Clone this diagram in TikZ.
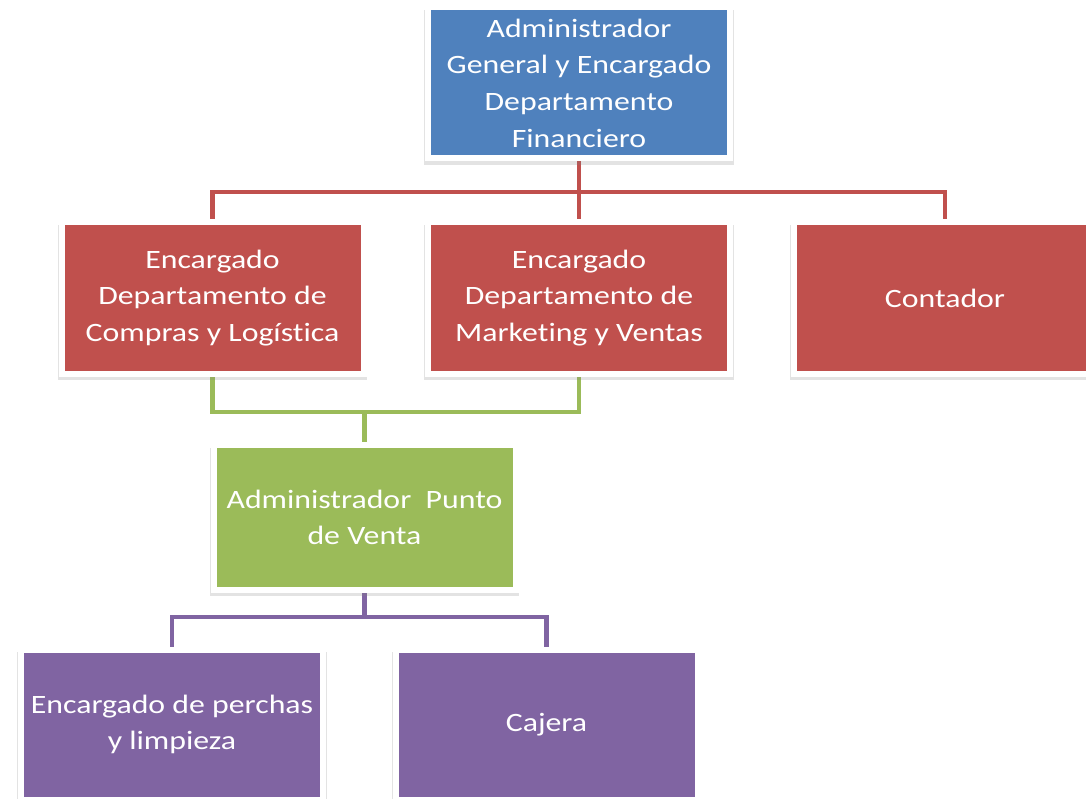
\documentclass[tikz,border=0pt]{standalone}
\usepackage{fontspec}
\setmainfont{Carlito}[FakeStretch=1.2, Ligatures={NoCommon, NoContextual}, Contextuals=NoAlternate]
\usepackage{tikz}
\usetikzlibrary{positioning, shadows, backgrounds}
\definecolor{orgBlue}{RGB}{79,129,189}
\definecolor{orgRed}{RGB}{192,80,77}
\definecolor{orgGreen}{RGB}{155,187,89}
\definecolor{orgPurple}{RGB}{128,100,162}

\begin{document}
\begin{tikzpicture}[
    x=1pt, y=-1pt,
    unitbox/.style={draw=white, line width=6pt, inner sep=0pt, minimum width=302pt,
      minimum height=151pt, align=center, text=white,
      font=\fontsize{26.5}{36.7}\selectfont,
      drop shadow={shadow xshift=0pt, shadow yshift=-4.5pt, shadow scale=1.025, opacity=0.22}},
    headbox/.style={unitbox, fill=orgBlue},
    deptbox/.style={unitbox, fill=orgRed},
    pvbox/.style={unitbox, fill=orgGreen, minimum height=144.5pt},
    staffbox/.style={unitbox, fill=orgPurple, minimum height=150pt},
    conn/.style={line width=4.5pt},
    redln/.style={conn, draw=orgRed},
    grnln/.style={conn, draw=orgGreen},
    purln/.style={conn, draw=orgPurple}
  ]
    \useasboundingbox (0,0) rectangle (1086,799);
    \node[headbox] (gen) at (579,83) {Administrador\\General y Encargado\\Departamento\\Financiero};
    \node[deptbox, below=58pt of gen] (mkt) {Encargado\\Departamento de\\Marketing y Ventas};
    \node[deptbox, left=58.5pt of mkt] (comp) {Encargado\\Departamento de\\Compras y Logística};
    \node[deptbox, right=58pt of mkt] (cont) {Contador};
    \node[pvbox, below=65.5pt of comp, xshift=152pt] (punto) {Administrador\ \ Punto\\de Venta};
    \node[staffbox, below=54pt of punto, xshift=-192.5pt] (perch) {Encargado de perchas\\y limpieza};
    \node[staffbox, right=66.5pt of perch] (caja) {Cajera};
    \coordinate (busR) at (579,192);
    \coordinate (busG) at (364.5,412);
    \coordinate (busP) at (364.5,617);
    \begin{scope}[on background layer]
      \fill[white] (0,0) rectangle (1086,799);
      \draw[redln] (gen.south) -- (busR) -- (mkt.north);
      \draw[redln] (comp.north) |- (busR) -| (cont.north);
      \draw[grnln] (comp.south) |- (busG) -| (mkt.south);
      \draw[grnln] (busG) -- (punto.north);
      \draw[purln] (punto.south) -- (busP);
      \draw[purln] (perch.north) |- (busP) -| (caja.north);
    \end{scope}
  \end{tikzpicture}
\end{document}
